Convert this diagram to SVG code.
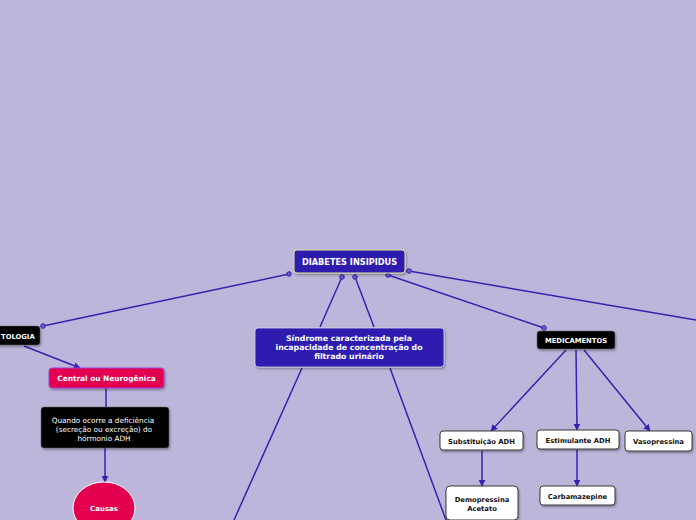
<svg xmlns="http://www.w3.org/2000/svg" width="696" height="520" viewBox="0 0 696 520">
<style>
.bg{fill:#bcb7da}
.ln{stroke:#3422b0;stroke-width:1.5;fill:none}
.dot{fill:#6a5ad0;stroke:#3422b0;stroke-width:1}
.t{font-family:"DejaVu Sans",Verdana,sans-serif;font-weight:bold;text-anchor:middle}
.w{fill:#ffffff}
.k{fill:#111111}
.white{fill:#ffffff;stroke:#3a3a3a;stroke-width:1}
.black{fill:#050505;stroke:#666;stroke-width:0.5}
.pink{fill:#e2004f}
.blue{fill:#2d1ab1}
</style>
<defs>
<marker id="ah" viewBox="0 0 10 10" refX="9" refY="5" markerWidth="7" markerHeight="7" markerUnits="userSpaceOnUse" orient="auto"><path d="M0,0 L10,5 L0,10 z" fill="#3422b0"/></marker>
<filter id="sh" x="-10%" y="-10%" width="130%" height="150%"><feDropShadow dx="1" dy="1.5" stdDeviation="0.8" flood-color="#000" flood-opacity="0.35"/></filter>
</defs>
<rect class="bg" x="0" y="0" width="696" height="520"/>
<g id="connectors">
<line class="ln" x1="289" y1="274" x2="43" y2="326"/>
<line class="ln" x1="342" y1="277" x2="320" y2="327"/>
<line class="ln" x1="355" y1="277" x2="374" y2="327"/>
<line class="ln" x1="388" y1="275" x2="544" y2="328"/>
<line class="ln" x1="409" y1="271" x2="696" y2="320"/>
<line class="ln" x1="302" y1="368" x2="234" y2="520"/>
<line class="ln" x1="390" y1="368" x2="446" y2="520"/>
<line class="ln" x1="24" y1="346" x2="80" y2="368" marker-end="url(#ah)"/>
<line class="ln" x1="106" y1="388" x2="106" y2="407"/>
<line class="ln" x1="105" y1="448" x2="105" y2="482" marker-end="url(#ah)"/>
<line class="ln" x1="566" y1="350" x2="491" y2="431" marker-end="url(#ah)"/>
<line class="ln" x1="576" y1="350" x2="577" y2="430" marker-end="url(#ah)"/>
<line class="ln" x1="584" y1="350" x2="650" y2="431" marker-end="url(#ah)"/>
<line class="ln" x1="482" y1="451" x2="482" y2="486" marker-end="url(#ah)"/>
<line class="ln" x1="577" y1="450" x2="577" y2="486" marker-end="url(#ah)"/>
<circle class="dot" cx="289" cy="274" r="2.3"/>
<circle class="dot" cx="43" cy="326" r="2.3"/>
<circle class="dot" cx="342" cy="277" r="2.3"/>
<circle class="dot" cx="355" cy="277" r="2.3"/>
<circle class="dot" cx="388" cy="275" r="2.3"/>
<circle class="dot" cx="544" cy="328" r="2.3"/>
<circle class="dot" cx="409" cy="271" r="2.3"/>
</g>
<g id="diabetes">
<rect x="294" y="250" width="111" height="23" rx="3" class="blue" stroke="#e8e6a0" stroke-width="1" filter="url(#sh)"/>
<text class="t w" x="349.5" y="265" font-size="8.2">DIABETES INSIPIDUS</text>
</g>
<g id="tologia">
<rect x="-6" y="326" width="46" height="19" rx="3" class="black" filter="url(#sh)"/>
<text class="t w" x="1" y="338.5" font-size="6.8" style="text-anchor:start">TOLOGIA</text>
</g>
<g id="central">
<rect x="49" y="368" width="115" height="20" rx="3" class="pink" stroke="#9a48d8" stroke-width="1" filter="url(#sh)"/>
<text class="t w" x="106.5" y="381" font-size="7.4">Central ou Neurogênica</text>
</g>
<g id="quando">
<rect x="41" y="407" width="128" height="41" rx="3" class="black" filter="url(#sh)"/>
<text font-family="DejaVu Sans,Verdana,sans-serif" font-size="7.3" fill="#ffffff" text-anchor="middle"><tspan x="103" y="423">Quando ocorre a deficiência</tspan><tspan x="104" y="432">(secreção ou excreção) do</tspan><tspan x="104" y="441">hórmonio ADH</tspan></text>
</g>
<g id="causas">
<ellipse cx="104" cy="508" rx="31" ry="26" class="pink" stroke="#ffffff" stroke-width="1"/>
<text class="t w" x="104" y="510.5" font-size="7">Causas</text>
</g>
<g id="sindrome">
<rect x="255" y="328" width="189" height="39" rx="3" class="blue" stroke="#d8d8e8" stroke-width="0.8" filter="url(#sh)"/>
<text class="t w" font-size="7.8"><tspan x="349" y="341">Síndrome caracterizada pela</tspan><tspan x="349" y="350">incapacidade de concentração do</tspan><tspan x="349" y="359">filtrado urinário</tspan></text>
</g>
<g id="medicamentos">
<rect x="537" y="331" width="78" height="18" rx="3" class="black" filter="url(#sh)"/>
<text class="t w" x="576" y="343" font-size="6.8">MEDICAMENTOS</text>
</g>
<g id="substituicao">
<rect x="440" y="431" width="83" height="19" rx="3" class="white" filter="url(#sh)"/>
<text class="t k" x="481.5" y="443.5" font-size="6.8">Substituição ADH</text>
</g>
<g id="estimulante">
<rect x="537" y="430" width="82" height="19" rx="3" class="white" filter="url(#sh)"/>
<text class="t k" x="578" y="442.5" font-size="6.8">Estimulante ADH</text>
</g>
<g id="vasopressina">
<rect x="625" y="431" width="67" height="20" rx="3" class="white" filter="url(#sh)"/>
<text class="t k" x="658.5" y="444" font-size="6.8">Vasopressina</text>
</g>
<g id="demopressina">
<rect x="446" y="486" width="72" height="34" rx="4" class="white" filter="url(#sh)"/>
<text class="t k" font-size="6.8"><tspan x="482" y="502">Demopressina</tspan><tspan x="482" y="511">Acetato</tspan></text>
</g>
<g id="carbamazepine">
<rect x="540" y="486" width="75" height="19" rx="3" class="white" filter="url(#sh)"/>
<text class="t k" x="577.5" y="498.5" font-size="6.8">Carbamazepine</text>
</g>
</svg>
